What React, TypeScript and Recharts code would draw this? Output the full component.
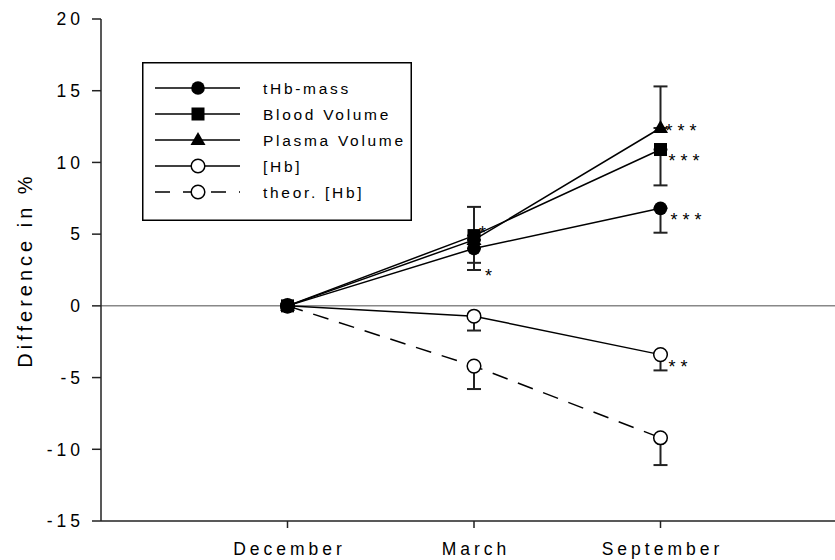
import React from 'react';
import { LineChart, Line, XAxis, YAxis, ErrorBar, ReferenceLine, Legend, LabelList } from 'recharts';

// x positions of the three sampling months
const months = ['December', 'March', 'September'];
const monthPos = [1, 2, 3];
const yTicks = [-15, -10, -5, 0, 5, 10, 15, 20];

const seriesNames = ['tHb-mass', 'Blood Volume', 'Plasma Volume', '[Hb]', 'theor. [Hb]'];

// values in % relative to December
const tHbMass = [0, 4.0, 6.8];
const tHbMassErr = [null, 1.0, 1.7]; // drawn downwards
const bloodVolume = [0, 4.9, 10.9];
const bloodVolumeErr = [null, 2.4, 2.5]; // downwards
const plasmaVolume = [0, 4.6, 12.4];
const plasmaVolumeErr = [null, 2.3, 2.9]; // upwards
const hb = [0, -0.72, -3.4];
const hbErr = [null, 1.0, 1.1]; // downwards
const theorHb = [0, -4.2, -9.2];
const theorHbErr = [null, 1.6, 1.9]; // downwards

// significance marks
const tHbMassSig = ['', '*', '***'];
const bloodVolumeSig = ['', '*', '***'];
const plasmaVolumeSig = ['', '', '***'];
const hbSig = ['', '', '**'];

const data = monthPos.map((x, i) => ({
  x,
  thb: tHbMass[i],
  thbErr: tHbMassErr[i] == null ? null : [tHbMassErr[i], 0],
  thbSig: tHbMassSig[i],
  bv: bloodVolume[i],
  bvErr: bloodVolumeErr[i] == null ? null : [bloodVolumeErr[i], 0],
  bvSig: bloodVolumeSig[i],
  pv: plasmaVolume[i],
  pvErr: plasmaVolumeErr[i] == null ? null : [0, plasmaVolumeErr[i]],
  pvSig: plasmaVolumeSig[i],
  hb: hb[i],
  hbErr: hbErr[i] == null ? null : [hbErr[i], 0],
  hbSig: hbSig[i],
  theor: theorHb[i],
  theorErr: theorHbErr[i] == null ? null : [theorHbErr[i], 0],
}));

const FONT = '"Liberation Sans", Arial, sans-serif';
const SPACING = 4;

type Marker = 'circle' | 'square' | 'triangle' | 'open';

const drawMarker = (kind: Marker, cx: number, cy: number, key?: string) => {
  if (kind === 'circle') return <circle key={key} cx={cx} cy={cy} r={6.8} fill="#000" />;
  if (kind === 'square') return <rect key={key} x={cx - 6.5} y={cy - 6.5} width={13} height={13} fill="#000" />;
  if (kind === 'triangle')
    return <polygon key={key} points={`${cx},${cy - 8} ${cx + 7.5},${cy + 5} ${cx - 7.5},${cy + 5}`} fill="#000" />;
  return <circle key={key} cx={cx} cy={cy} r={6.8} fill="#fff" stroke="#000" strokeWidth={1.5} />;
};

const dotOf = (kind: Marker) => (p: any) => drawMarker(kind, p.cx, p.cy, `d-${p.index}`);

// where the stars sit relative to a point, per month index
const sigLabel = (offsets: Record<number, [number, number]>) => (p: any) => {
  if (!p.value) return null;
  const o = offsets[p.index] || [8, 18];
  return (
    <text x={p.x + o[0]} y={p.y + o[1]} fontFamily={FONT} fontSize={18} letterSpacing={5} fill="#000">
      {p.value}
    </text>
  );
};

const legendRows: { kind: Marker; dashed: boolean }[] = [
  { kind: 'circle', dashed: false },
  { kind: 'square', dashed: false },
  { kind: 'triangle', dashed: false },
  { kind: 'open', dashed: false },
  { kind: 'open', dashed: true },
];

const LEGEND_W = 270;
const LEGEND_H = 159;

const renderLegend = () => (
  <svg width={LEGEND_W} height={LEGEND_H} style={{ display: 'block' }}>
    <rect x={0.75} y={0.75} width={LEGEND_W - 1.5} height={LEGEND_H - 1.5} fill="#fff" stroke="#000" strokeWidth={1.5} />
    {legendRows.map((r, i) => {
      const y = 26 + i * 26;
      return (
        <g key={i}>
          <line x1={13} x2={98} y1={y} y2={y} stroke="#000" strokeWidth={1.5} strokeDasharray={r.dashed ? '15 13' : undefined} />
          {drawMarker(r.kind, 56, y)}
          <text x={121} y={y + 5.5} fontFamily={FONT} fontSize={15.5} letterSpacing={2.7} fill="#000">
            {seriesNames[i]}
          </text>
        </g>
      );
    })}
  </svg>
);

const yTitle = (p: any) => {
  const vb = p.viewBox;
  const cy = vb.y + vb.height / 2;
  return (
    <text
      x={32}
      y={cy}
      transform={`rotate(-90 32 ${cy})`}
      textAnchor="middle"
      fontFamily={FONT}
      fontSize={20}
      letterSpacing={SPACING}
      fill="#000"
    >
      Difference in %
    </text>
  );
};

const XTick = (p: any) => (
  <text
    x={p.x + SPACING / 2}
    y={555}
    textAnchor="middle"
    fontFamily={FONT}
    fontSize={17.5}
    letterSpacing={SPACING}
    fill="#000"
  >
    {months[monthPos.indexOf(p.payload.value)]}
  </text>
);

const YTick = (p: any) => (
  <text
    x={p.x + SPACING}
    y={p.y}
    dy="0.36em"
    textAnchor="end"
    fontFamily={FONT}
    fontSize={17.5}
    letterSpacing={SPACING}
    fill="#000"
  >
    {p.payload.value}
  </text>
);

export default function App() {
  return (
    <div style={{ position: 'fixed', left: 0, top: 0, width: 835, height: 560, overflow: 'hidden', background: '#fff' }}>
      <LineChart width={870} height={560} data={data} margin={{ top: 19, right: 23, bottom: 0, left: 0 }}>
        <XAxis
          dataKey="x"
          type="number"
          domain={[0, 4]}
          ticks={monthPos}
          height={39}
          stroke="#222"
          strokeWidth={1.5}
          tickSize={7}
          tick={XTick}
        />
        <YAxis
          type="number"
          domain={[-15, 20]}
          ticks={yTicks}
          interval={0}
          width={101}
          stroke="#222"
          strokeWidth={1.5}
          tickSize={9}
          tickMargin={12}
          tick={YTick}
          label={{ content: yTitle }}
        />
        <ReferenceLine y={0} stroke="#888" strokeWidth={1.5} />
        <Legend
          content={renderLegend}
          layout="vertical"
          align="center"
          verticalAlign="middle"
          wrapperStyle={{ left: 142, top: 62, width: LEGEND_W }}
        />
        <Line dataKey="theor" stroke="#000" strokeWidth={1.5} strokeDasharray="16 11" dot={dotOf('open')} isAnimationActive={false}>
          <ErrorBar dataKey="theorErr" width={7} stroke="#222" strokeWidth={2} direction="y" />
        </Line>
        <Line dataKey="hb" stroke="#000" strokeWidth={1.5} dot={dotOf('open')} isAnimationActive={false}>
          <ErrorBar dataKey="hbErr" width={7} stroke="#222" strokeWidth={2} direction="y" />
          <LabelList dataKey="hbSig" content={sigLabel({ 2: [8, 18] })} />
        </Line>
        <Line dataKey="thb" stroke="#000" strokeWidth={1.5} dot={dotOf('circle')} isAnimationActive={false}>
          <ErrorBar dataKey="thbErr" width={7} stroke="#222" strokeWidth={2} direction="y" />
          <LabelList dataKey="thbSig" content={sigLabel({ 1: [11, 34], 2: [10, 18] })} />
        </Line>
        <Line dataKey="bv" stroke="#000" strokeWidth={1.5} dot={dotOf('square')} isAnimationActive={false}>
          <ErrorBar dataKey="bvErr" width={7} stroke="#222" strokeWidth={2} direction="y" />
          <LabelList dataKey="bvSig" content={sigLabel({ 1: [5, 3], 2: [8, 17] })} />
        </Line>
        <Line dataKey="pv" stroke="#000" strokeWidth={1.5} dot={dotOf('triangle')} isAnimationActive={false}>
          <ErrorBar dataKey="pvErr" width={7} stroke="#222" strokeWidth={2} direction="y" />
          <LabelList dataKey="pvSig" content={sigLabel({ 2: [5, 9] })} />
        </Line>
      </LineChart>
    </div>
  );
}
